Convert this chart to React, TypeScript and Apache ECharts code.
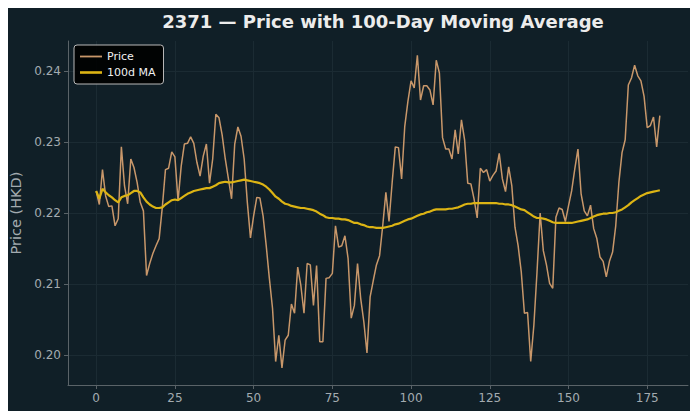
import React, { useEffect, useRef } from "react";
import * as echarts from "echarts";

// Daily closing price (HKD), trading days 0..179
const price: number[] = [
  0.2231, 0.2212, 0.2261, 0.2224, 0.2209, 0.2210, 0.2182, 0.2192, 0.2293, 0.2238,
  0.2213, 0.2276, 0.2264, 0.2243, 0.2215, 0.2203, 0.2112, 0.2129, 0.2143, 0.2154,
  0.2164, 0.2208, 0.2261, 0.2263, 0.2286, 0.2279, 0.2217, 0.2266, 0.2297, 0.2298,
  0.2307, 0.2298, 0.2271, 0.2252, 0.2280, 0.2297, 0.2242, 0.2276, 0.2339, 0.2334,
  0.2310, 0.2276, 0.2248, 0.2220, 0.2297, 0.2321, 0.2308, 0.2276, 0.2215, 0.2165,
  0.2196, 0.2222, 0.2221, 0.2196, 0.2154, 0.2108, 0.2066, 0.1991, 0.2028, 0.1982,
  0.2021, 0.2028, 0.2072, 0.2059, 0.2124, 0.2098, 0.2059, 0.2129, 0.2127, 0.2070,
  0.2126, 0.2019, 0.2019, 0.2108, 0.2109, 0.2115, 0.2182, 0.2152, 0.2154, 0.2168,
  0.2136, 0.2052, 0.2070, 0.2129, 0.2080, 0.2047, 0.2003, 0.2082, 0.2105, 0.2127,
  0.2140, 0.2182, 0.2229, 0.2188, 0.2243, 0.2293, 0.2292, 0.2248, 0.2322, 0.2357,
  0.2386, 0.2376, 0.2422, 0.2359, 0.2379, 0.2379, 0.2373, 0.2352, 0.2415, 0.2397,
  0.2306, 0.2290, 0.2290, 0.2276, 0.2317, 0.2283, 0.2331, 0.2303, 0.2242, 0.2241,
  0.2220, 0.2193, 0.2263, 0.2257, 0.2261, 0.2245, 0.2253, 0.2259, 0.2284, 0.2248,
  0.2230, 0.2265, 0.2238, 0.2180, 0.2154, 0.2117, 0.2059, 0.2060, 0.1991, 0.2042,
  0.2117, 0.2200, 0.2147, 0.2127, 0.2101, 0.2094, 0.2194, 0.2207, 0.2205, 0.2188,
  0.2210, 0.2231, 0.2262, 0.2290, 0.2227, 0.2203, 0.2196, 0.2211, 0.2178, 0.2164,
  0.2138, 0.2132, 0.2110, 0.2132, 0.2145, 0.2182, 0.2243, 0.2285, 0.2303, 0.2380,
  0.2390, 0.2408, 0.2393, 0.2386, 0.2364, 0.2320, 0.2323, 0.2335, 0.2293, 0.2337,
];

// 100-day moving average of the close
const ma100: number[] = [
  0.2231, 0.2220, 0.2234, 0.2229, 0.2225, 0.2222, 0.2218, 0.2215, 0.2222, 0.2224,
  0.2225, 0.2228, 0.2231, 0.2231, 0.2229, 0.2222, 0.2216, 0.2212, 0.2209, 0.2207,
  0.2207, 0.2208, 0.2212, 0.2215, 0.2218, 0.2219, 0.2218, 0.2221, 0.2224, 0.2227,
  0.2229, 0.2231, 0.2232, 0.2233, 0.2234, 0.2235, 0.2235, 0.2237, 0.2239, 0.2242,
  0.2243, 0.2244, 0.2243, 0.2243, 0.2244, 0.2245, 0.2246, 0.2247, 0.2246, 0.2245,
  0.2244, 0.2243, 0.2242, 0.2240, 0.2237, 0.2233, 0.2228, 0.2223, 0.2220, 0.2216,
  0.2213, 0.2212, 0.2210, 0.2209, 0.2208, 0.2207, 0.2207, 0.2206, 0.2205, 0.2204,
  0.2202, 0.2199, 0.2197, 0.2194, 0.2193, 0.2193, 0.2192, 0.2192, 0.2191, 0.2191,
  0.2190, 0.2188, 0.2186, 0.2186, 0.2184, 0.2183, 0.2181, 0.2180, 0.2180, 0.2179,
  0.2179, 0.2179, 0.2180, 0.2181, 0.2182, 0.2184, 0.2185, 0.2187, 0.2189, 0.2191,
  0.2192, 0.2194, 0.2196, 0.2198, 0.2199, 0.2201, 0.2202, 0.2204, 0.2205, 0.2205,
  0.2205, 0.2205, 0.2206, 0.2206, 0.2207, 0.2208, 0.2210, 0.2212, 0.2213, 0.2213,
  0.2214, 0.2214, 0.2214, 0.2214, 0.2214, 0.2214, 0.2214, 0.2214, 0.2213, 0.2213,
  0.2212, 0.2212, 0.2211, 0.2209, 0.2207, 0.2205, 0.2204, 0.2201, 0.2198, 0.2195,
  0.2193, 0.2193, 0.2192, 0.2191, 0.2189, 0.2187, 0.2186, 0.2186, 0.2186, 0.2186,
  0.2186, 0.2186, 0.2187, 0.2188, 0.2189, 0.2190, 0.2191, 0.2193, 0.2195, 0.2197,
  0.2198, 0.2199, 0.2199, 0.2200, 0.2200, 0.2201, 0.2203, 0.2205, 0.2208, 0.2211,
  0.2215, 0.2218, 0.2221, 0.2224, 0.2226, 0.2228, 0.2229, 0.2230, 0.2231, 0.2232,
];

const xTicks: number[] = [0, 25, 50, 75, 100, 125, 150, 175];
const yTicks: number[] = [0.2, 0.21, 0.22, 0.23, 0.24];

const BG = "#101f27";
const FONT = "DejaVu Sans";
const PRICE_COLOR = "#c8976a";
const MA_COLOR = "#dcb414";

export default function App() {
  const ref = useRef<HTMLDivElement>(null);

  useEffect(() => {
    if (!ref.current) return;
    const chart = echarts.init(ref.current, null, { renderer: "svg" });

    const axisLabel = { color: "#a3abb0", fontFamily: FONT, fontSize: 12 };
    const splitLine = { show: true, lineStyle: { color: "#1b2b33", width: 1 } };
    const spine = { show: true, onZero: false, lineStyle: { color: "#5a6368", width: 1 } };

    chart.setOption({
      animation: false,
      backgroundColor: BG,
      title: {
        text: "2371 — Price with 100-Day Moving Average",
        left: 378,
        textAlign: "center",
        top: 7,
        textStyle: { color: "#ececec", fontFamily: FONT, fontSize: 18, fontWeight: "bold" },
      },
      legend: {
        orient: "vertical",
        left: 74,
        top: 45,
        padding: [6, 8, 6, 6],
        itemGap: 5,
        itemWidth: 22,
        itemHeight: 11,
        backgroundColor: "rgba(0,0,0,0.9)",
        borderColor: "#b9b9b9",
        borderWidth: 1,
        borderRadius: 3,
        textStyle: { color: "#f0f0f0", fontFamily: FONT, fontSize: 11 },
        data: [
          { name: "Price", icon: "path://M0,4.6 L22,4.6 L22,6.4 L0,6.4 Z M0,0 L0,0 M0,11 L0,11" },
          { name: "100d MA", icon: "path://M0,4.2 L22,4.2 L22,6.8 L0,6.8 Z M0,0 L0,0 M0,11 L0,11" },
        ],
      },
      grid: { left: 68, right: 10, top: 41, bottom: 34, containLabel: false },
      xAxis: {
        type: "value",
        min: -8.95,
        max: 187.95,
        axisLine: spine,
        axisTick: { show: true, length: 4, customValues: xTicks, lineStyle: { color: "#5a6368" } },
        axisLabel: { ...axisLabel, margin: 7, customValues: xTicks },
        splitLine,
      },
      yAxis: {
        type: "value",
        min: 0.1958,
        max: 0.2442,
        name: "Price (HKD)",
        nameLocation: "middle",
        nameGap: 45,
        nameTextStyle: { color: "#a3abb0", fontFamily: FONT, fontSize: 14.5 },
        axisLine: spine,
        axisTick: { show: true, length: 4, customValues: yTicks, lineStyle: { color: "#5a6368" } },
        axisLabel: {
          ...axisLabel,
          margin: 7,
          customValues: yTicks,
          formatter: (v: number) => v.toFixed(2),
        },
        splitLine,
      },
      series: [
        {
          name: "Price",
          type: "line",
          data: price.map((v, i) => [i, v]),
          showSymbol: false,
          symbol: "none",
          lineStyle: { color: PRICE_COLOR, width: 1.5 },
          itemStyle: { color: PRICE_COLOR },
          z: 2,
        },
        {
          name: "100d MA",
          type: "line",
          data: ma100.map((v, i) => [i, v]),
          showSymbol: false,
          symbol: "none",
          lineStyle: { color: MA_COLOR, width: 2.2 },
          itemStyle: { color: MA_COLOR },
          z: 3,
        },
      ],
    });

    return () => chart.dispose();
  }, []);

  return <div ref={ref} style={{ width: 698, height: 419, margin: -8 }} />;
}
